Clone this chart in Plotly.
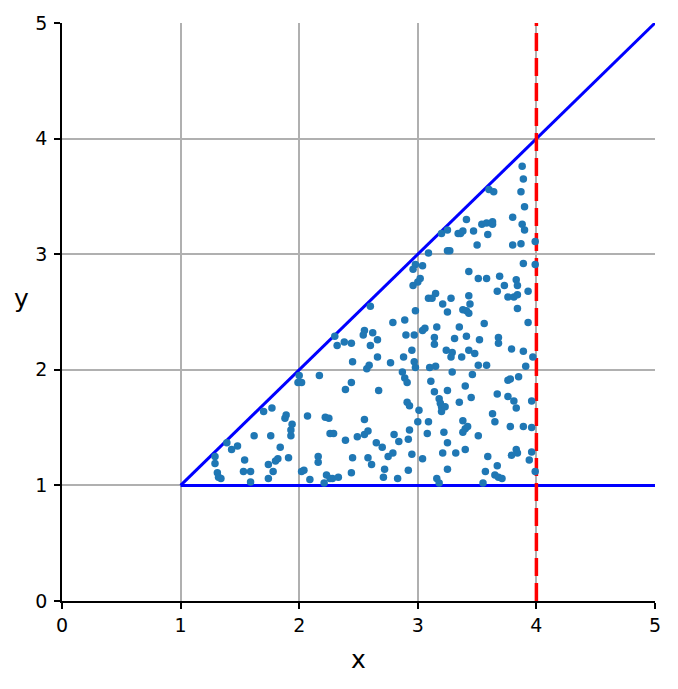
import plotly.graph_objects as go

x_vals = [
    1.29, 1.29, 1.31, 1.32, 1.34, 1.39, 1.43, 1.48, 1.62, 1.54, 1.53, 1.59, 1.59, 1.70, 1.77, 1.76,
    1.84, 1.88, 1.89, 1.94, 1.93, 1.93, 1.74, 1.80, 1.82, 1.91, 1.78, 1.74,
    1.99, 2.02, 2.00, 2.17, 2.45, 2.57, 2.59, 2.77, 2.87, 2.89, 2.91, 2.98, 2.97, 2.39, 2.44, 2.67,
    2.07, 2.22, 2.25, 2.55, 2.26, 2.29, 2.39, 2.49, 2.55, 2.58, 2.65, 2.70, 2.80, 2.84, 2.92, 2.93,
    2.91, 2.93, 3.01, 3.00, 2.16, 2.16, 2.04, 2.02, 2.09, 2.45, 2.58, 2.61, 2.75, 2.79, 2.95, 2.23,
    2.26, 2.28, 2.33, 2.21, 2.44, 2.72, 2.71, 2.83, 2.92, 3.04,
    3.10, 3.15, 3.29, 3.51, 3.58, 3.46, 3.91, 3.11, 3.40, 3.76, 3.78, 3.85, 3.14, 3.25, 3.67, 3.18,
    3.19, 3.20, 3.23, 3.20, 3.35, 3.45, 3.76, 3.81, 3.83, 3.96, 3.09, 3.63, 3.65, 3.38, 3.42, 3.40,
    3.38, 3.78, 3.89, 3.96, 3.08, 3.22, 3.51, 3.25, 3.21, 3.32, 3.40, 3.59, 3.79, 3.83, 3.84, 3.96,
    3.94, 3.25, 3.57, 3.67, 3.65, 3.68, 3.71, 3.99, 3.16, 3.18, 3.55,
    2.30, 2.32, 2.38, 2.44,
    3.09, 3.25, 3.27, 3.50, 2.98, 2.96, 3.04, 3.02, 3.00, 2.96, 3.43, 3.51, 3.09, 3.12, 3.15, 3.28,
    3.21, 3.25, 3.43, 3.44, 3.38, 3.41, 3.43, 2.60, 2.98, 2.89, 2.79, 2.55, 2.54, 2.62, 2.66, 2.60,
    3.04, 3.06, 3.16, 3.35, 3.14, 3.14, 2.90, 2.97, 3.31, 3.41, 3.52, 2.95, 3.24, 3.29, 3.28, 3.43,
    3.48, 3.37, 2.66, 2.88,
    3.80, 3.87, 3.99, 3.89, 3.99, 3.58, 3.69, 3.73, 3.67, 3.83, 3.84, 3.76, 3.81, 3.84, 3.93, 3.84,
    3.56, 3.93, 3.68, 3.68, 3.79, 3.89, 3.97,
    3.88, 3.89, 3.87, 3.90, 3.80, 3.88, 3.90, 3.60, 3.64, 3.41, 3.54, 3.58, 3.63, 3.63, 3.47, 3.59,
    3.20, 3.25, 3.34, 3.36, 3.38,
]
y_vals = [
    1.25, 1.19, 1.11, 1.07, 1.06, 1.37, 1.31, 1.34, 1.43, 1.22, 1.12, 1.12, 1.03, 1.64, 1.67, 1.43,
    1.33, 1.58, 1.61, 1.53, 1.48, 1.43, 1.18, 1.21, 1.23, 1.24, 1.12, 1.06,
    1.89, 1.89, 1.95, 1.95, 2.07, 2.01, 2.04, 2.06, 1.98, 1.93, 1.89, 2.02, 2.07, 1.83, 1.89, 1.82,
    1.60, 1.59, 1.58, 1.57, 1.45, 1.45, 1.39, 1.42, 1.44, 1.47, 1.37, 1.33, 1.44, 1.38, 1.40, 1.48,
    1.72, 1.69, 1.65, 1.55, 1.25, 1.20, 1.13, 1.12, 1.05, 1.24, 1.24, 1.18, 1.25, 1.28, 1.27, 1.09,
    1.06, 1.06, 1.07, 1.02, 1.11, 1.14, 1.07, 1.06, 1.13, 1.23,
    2.02, 2.03, 1.98, 2.04, 2.04, 1.96, 2.03, 1.90, 1.86, 1.91, 1.92, 1.94, 1.81, 1.82, 1.79, 1.75,
    1.71, 1.68, 1.68, 1.64, 1.72, 1.76, 1.77, 1.73, 1.67, 1.73, 1.55, 1.62, 1.55, 1.56, 1.51, 1.49,
    1.46, 1.51, 1.51, 1.50, 1.45, 1.46, 1.43, 1.37, 1.28, 1.28, 1.31, 1.25, 1.26, 1.31, 1.28, 1.29,
    1.22, 1.14, 1.12, 1.17, 1.09, 1.07, 1.06, 1.12, 1.06, 1.02, 1.02,
    2.29, 2.21, 2.24, 2.23,
    3.01, 3.03, 3.03, 3.08, 2.91, 2.87, 2.90, 2.79, 2.76, 2.73, 2.85, 2.79, 2.62, 2.62, 2.66, 2.62,
    2.57, 2.50, 2.64, 2.57, 2.52, 2.51, 2.49, 2.55, 2.51, 2.43, 2.41, 2.34, 2.30, 2.32, 2.26, 2.21,
    2.34, 2.36, 2.37, 2.37, 2.28, 2.22, 2.30, 2.30, 2.27, 2.29, 2.26, 2.17, 2.17, 2.15, 2.11, 2.17,
    2.14, 2.11, 2.11, 2.11,
    3.08, 3.09, 3.11, 2.92, 2.91, 2.79, 2.81, 2.73, 2.68, 2.78, 2.73, 2.63, 2.63, 2.65, 2.68, 2.53,
    2.40, 2.41, 2.28, 2.23, 2.18, 2.16, 2.11,
    3.76, 3.65, 3.54, 3.41, 3.32, 3.26, 3.21, 3.56, 3.54, 3.30, 3.26, 3.27, 3.28, 3.26, 3.20, 3.17,
    3.18, 3.21, 3.18, 3.18, 3.20,
]

diag_x = [1, 5]
diag_y = [1, 5]
base_x = [1, 5]
base_y = [1, 1]
vline_x = [4, 4]
vline_y = [0, 5]
tick_vals = [0, 1, 2, 3, 4, 5]
tick_text = ["0", "1", "2", "3", "4", "5"]

fig = go.Figure()
fig.add_trace(go.Scatter(x=diag_x, y=diag_y, mode="lines",
                         line=dict(color="#0000ff", width=3), showlegend=False))
fig.add_trace(go.Scatter(x=base_x, y=base_y, mode="lines",
                         line=dict(color="#0000ff", width=3), showlegend=False))
fig.add_trace(go.Scatter(x=vline_x, y=vline_y, mode="lines",
                         line=dict(color="#ff0000", width=3.5, dash="18px,7px"), showlegend=False))
fig.add_trace(go.Scatter(x=x_vals, y=y_vals, mode="markers",
                         marker=dict(color="#1f77b4", size=7.5, line=dict(width=0)),
                         showlegend=False))

axis_common = dict(
    range=[0, 5], tickvals=tick_vals, ticktext=tick_text,
    showgrid=True, gridcolor="#b0b0b0", gridwidth=1.5,
    showline=True, linecolor="black", linewidth=1.5,
    ticks="outside", ticklen=6, tickwidth=1.5, tickcolor="black",
    zeroline=False, mirror=False, automargin=False,
    tickfont=dict(family="DejaVu Sans", size=19, color="black"),
)
fig.update_layout(
    width=678, height=689,
    margin=dict(l=54, r=31, t=15, b=96),
    plot_bgcolor="white", paper_bgcolor="white",
    xaxis=axis_common,
    yaxis=dict(axis_common, ticklabelstandoff=3),
    font=dict(family="DejaVu Sans", color="black"),
    annotations=[
        dict(text="x", xref="paper", yref="paper", x=0.5, y=-0.102,
             xanchor="center", yanchor="middle", showarrow=False,
             font=dict(size=25, family="DejaVu Sans", color="black")),
        dict(text="y", xref="paper", yref="paper", x=-0.0675, y=0.524,
             xanchor="center", yanchor="middle", showarrow=False,
             font=dict(size=25, family="DejaVu Sans", color="black")),
    ],
)
fig.write_html("out.html")
